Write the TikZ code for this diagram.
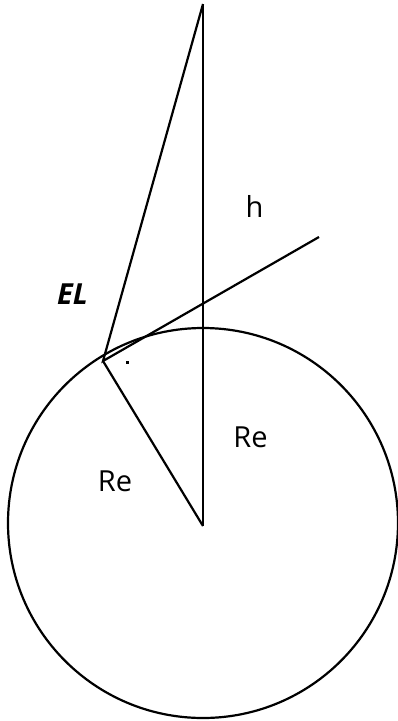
\documentclass[tikz,border=0pt]{standalone}
\usepackage{fontspec}
\setmainfont{Open Sans}
\begin{document}
\begin{tikzpicture}[x=1pt,y=-1pt,
  geo/.style={line width=2.2pt,line join=miter},
  lbl/.style={inner sep=0pt,font=\fontsize{29}{35}\selectfont},
  lblit/.style={inner sep=0pt,font=\fontsize{29}{35}\selectfont\bfseries\itshape}]
\useasboundingbox (0,0) rectangle (398,721);
\coordinate (T) at (203,4);
\coordinate (C) at (203,526);
\coordinate (O) at (203,523);
\coordinate (V) at (103,361);
\coordinate (H) at (319,237);
\draw[geo] (O) circle[radius=195];
\draw[geo] (T) -- (C);
\draw[geo] (H) -- (V) -- (T);
\draw[geo] (V) -- (C);
\fill (126,360.5) rectangle (129,363.5);
\node[lbl] (h) at (254.5,206) {h};
\node[lblit] (el) at (72.5,294) {EL};
\node[lbl] (re1) at (250.5,437.5) {Re};
\node[lbl] (re2) at (115,481) {Re};
\end{tikzpicture}
\end{document}
